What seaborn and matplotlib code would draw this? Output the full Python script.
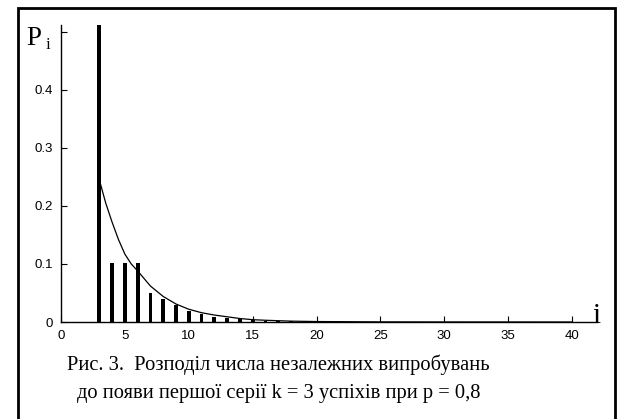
import matplotlib
matplotlib.use("Agg")
import matplotlib.pyplot as plt
import seaborn as sns
import pandas as pd
from matplotlib.patches import Rectangle

# значення
i_vals = list(range(3, 41))
p_vals = [0.512, 0.1024, 0.1024, 0.1024, 0.050, 0.0395, 0.029, 0.0185,
          0.0134, 0.0094, 0.0064, 0.0045, 0.0031, 0.0021, 0.0015, 0.0010,
          0.0007, 0.0005, 0.0004, 0.0003, 0.0002, 0.0002, 0.0001, 0.0001,
          0.0001, 0.0001, 0.0, 0.0, 0.0, 0.0, 0.0, 0.0, 0.0, 0.0, 0.0,
          0.0, 0.0, 0.0]

# наближаюча крива
curve_x = [3, 3.5, 4, 4.5, 5, 5.5, 6, 7, 8, 9, 10, 11, 12, 13, 14, 15,
           16, 18, 20, 25, 30, 40]
curve_y = [0.245, 0.205, 0.172, 0.142, 0.117, 0.100, 0.088, 0.062, 0.044,
           0.031, 0.022, 0.016, 0.012, 0.009, 0.006, 0.004, 0.003, 0.0015,
           0.0008, 0.0002, 0.0001, 0.0]

y_ticks = [0, 0.1, 0.2, 0.3, 0.4, 0.5]
y_labels = ["0", "0.1", "0.2", "0.3", "0.4", ""]
x_ticks = [0, 5, 10, 15, 20, 25, 30, 35, 40]

caption_1 = "Рис. 3.  Розподіл числа незалежних випробувань"
caption_2 = "до появи першої серії k = 3 успіхів при p = 0,8"

bars = pd.DataFrame({"i": i_vals, "P": p_vals})
curve = pd.DataFrame({"i": curve_x, "P": curve_y})

sns.set_theme(style="white")
plt.rcParams["font.family"] = ["Liberation Sans", "DejaVu Sans"]

fig = plt.figure(figsize=(6.2, 4.19), dpi=100)
ax = fig.add_axes([0.0984, 0.2315, 0.8645, 0.7088])

sns.barplot(data=bars, x="i", y="P", native_scale=True, width=0.3,
            color="black", saturation=1, edgecolor="none", ax=ax)
sns.lineplot(data=curve, x="i", y="P", color="black", linewidth=0.9, ax=ax)

ax.set_xlim(0, 41.95)
ax.set_ylim(0, 0.512)
ax.set_xticks(x_ticks)
ax.set_xticklabels([str(t) for t in x_ticks])
ax.set_yticks(y_ticks)
ax.set_yticklabels(y_labels)
ax.tick_params(direction="in", length=4, width=0.8, labelsize=9.5,
               colors="black", pad=6)
ax.tick_params(axis="y", left=True)
ax.tick_params(axis="x", bottom=True)
ax.set_xlabel("")
ax.set_ylabel("")
for side in ["top", "right"]:
    ax.spines[side].set_visible(False)
for side in ["left", "bottom"]:
    ax.spines[side].set_color("black")
    ax.spines[side].set_linewidth(1.0)

serif = ["Liberation Serif", "DejaVu Serif"]
fig.text(0.043, 0.8926, "P", family=serif, fontsize=19.5, color="black",
         va="baseline")
fig.text(0.073, 0.882, "i", family=serif, fontsize=12, color="black",
         va="baseline")
fig.text(0.955, 0.229, "i", family=serif, fontsize=21, color="black",
         va="baseline")
fig.text(0.449, 0.129, caption_1, family=serif, fontsize=14.8, ha="center",
         va="center", color="black")
fig.text(0.449, 0.060, caption_2, family=serif, fontsize=14.8, ha="center",
         va="center", color="black")

fig.patches.append(Rectangle((0.0285, -0.01), 0.964, 0.99, fill=False,
                             edgecolor="black", linewidth=2,
                             transform=fig.transFigure, figure=fig))

fig.savefig("out.png", dpi=100)
